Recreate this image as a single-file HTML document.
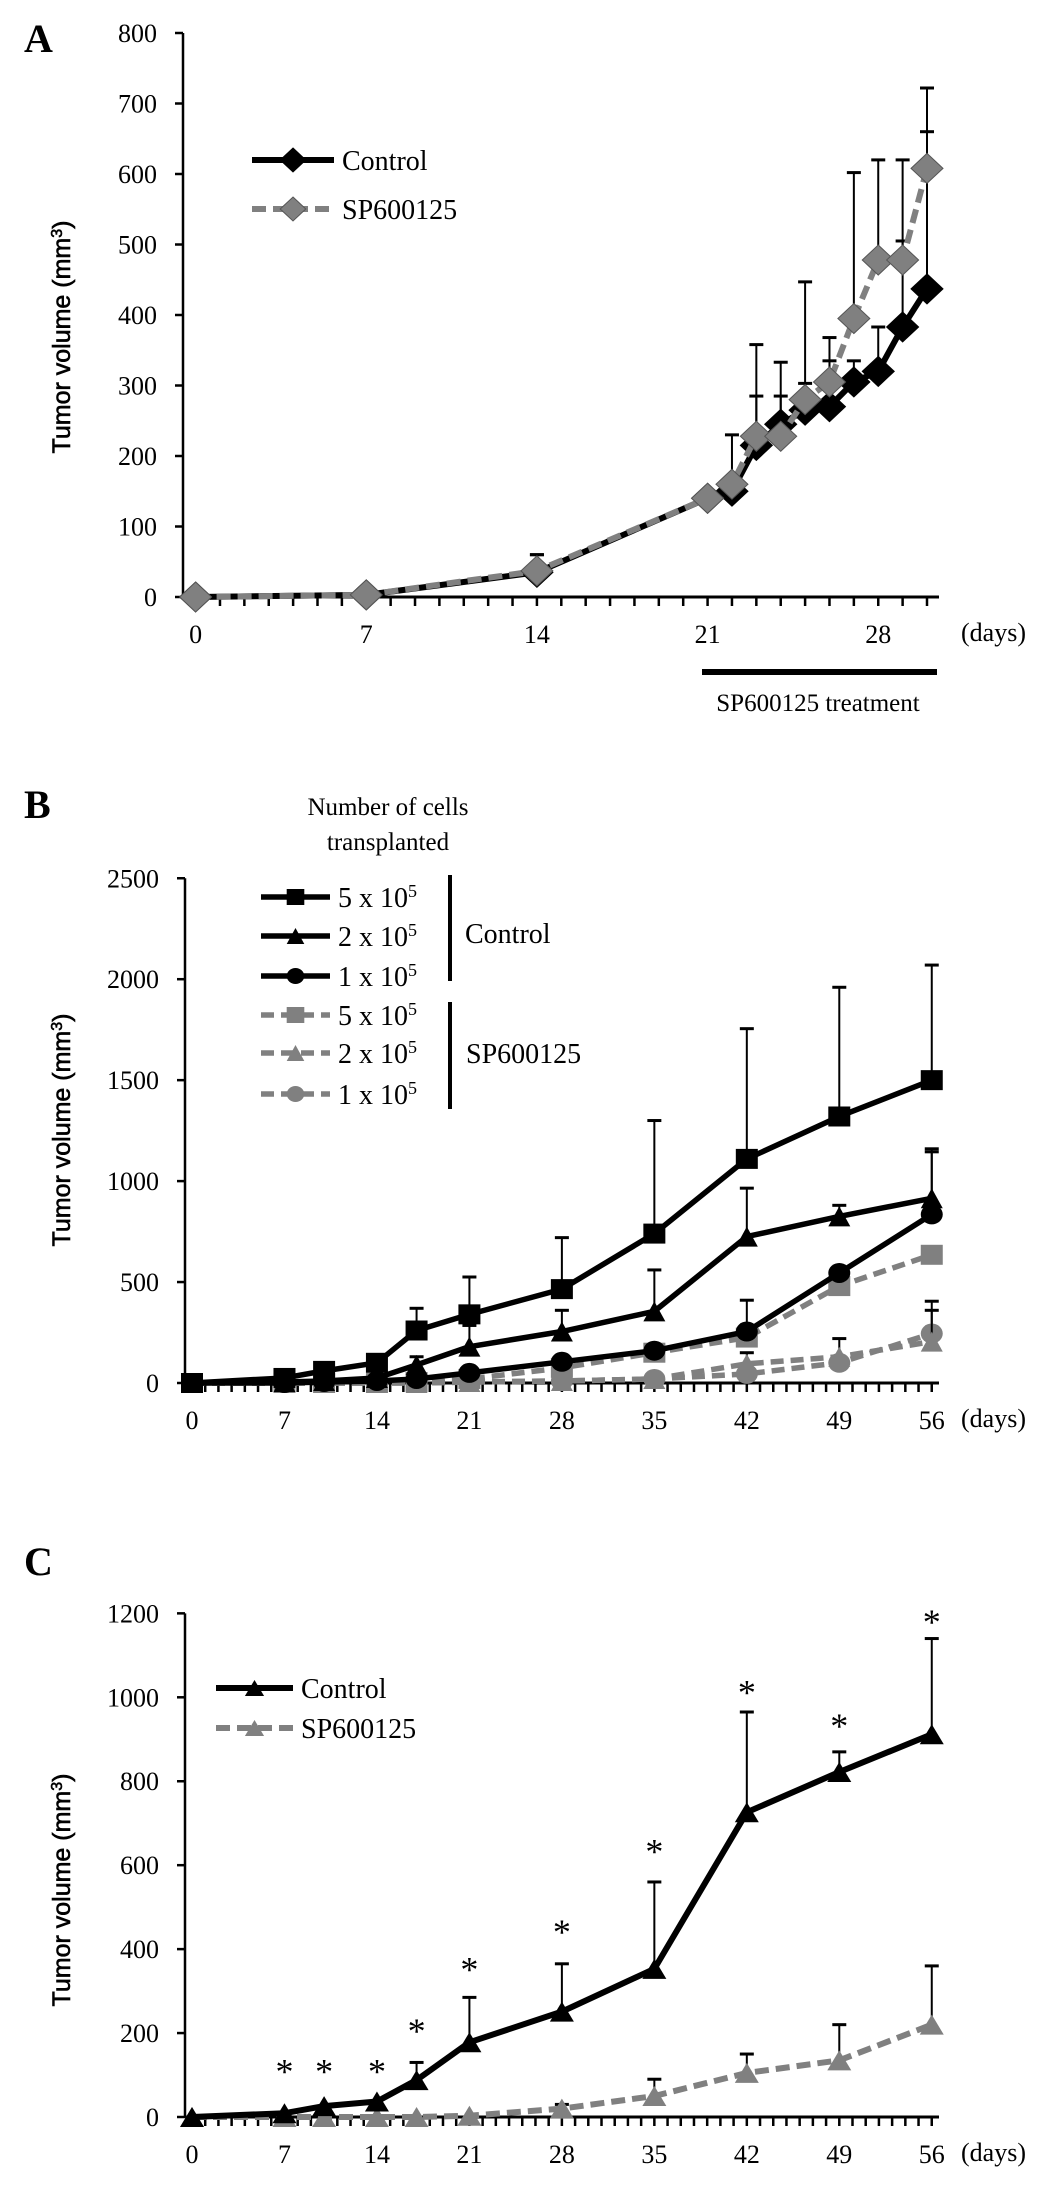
<!DOCTYPE html>
<html><head><meta charset="utf-8">
<style>
html,body{margin:0;padding:0;background:#fff;}
svg{display:block;}
text{font-family:"Liberation Serif",serif;fill:#000;}
.ytitle{font-family:"Liberation Sans",sans-serif;font-size:25px;stroke:#000;stroke-width:0.6px;}
</style></head>
<body>
<svg id="fig" width="1063" height="2192" viewBox="0 0 1063 2192" xmlns="http://www.w3.org/2000/svg"></svg>
<script>
// ---------- Panel A data ----------
const aDays = [0,7,14,21,22,23,24,25,26,27,28,29,30];
const aControl = [0,3,35,140,150,215,245,265,270,305,320,383,437];
const aControlErr = [0,5,60,140,150,285,285,303,335,335,383,505,660];
const aSP = [0,3,37,140,160,228,228,280,305,395,478,478,608];
const aSPErr = [0,5,60,140,230,358,333,447,368,602,620,620,722];
const aYTicks = [0,100,200,300,400,500,600,700,800];
const aXTicks = [0,7,14,21,28];

// ---------- Panel B data ----------
const bDays = [0,7,10,14,17,21,28,35,42,49,56];
const bC5 = [0,25,60,100,260,340,465,740,1110,1320,1500];
const bC5Err = [0,25,60,100,370,525,720,1300,1755,1960,2070];
const bC2 = [0,5,10,25,90,180,255,355,725,825,915];
const bC2Err = [0,5,10,25,130,285,360,560,965,880,1160];
const bC1 = [0,0,5,10,20,50,105,160,255,545,835];
const bC1Err = [0,0,5,10,20,50,105,160,410,545,1145];
const bS5 = [0,0,0,0,5,20,75,150,225,480,635];
const bS5Err = [0,0,0,0,5,20,75,150,225,480,635];
const bS2 = [0,0,0,0,0,5,10,20,95,130,205];
const bS2Err = [0,0,0,0,0,5,10,20,150,220,405];
const bS1 = [0,0,0,0,0,5,10,20,45,100,245];
const bS1Err = [0,0,0,0,0,5,10,20,45,100,360];
const bYTicks = [0,500,1000,1500,2000,2500];
const bXTicks = [0,7,14,21,28,35,42,49,56];

// ---------- Panel C data ----------
const cDays = [0,7,10,14,17,21,28,35,42,49,56];
const cControl = [0,9,26,37,88,178,251,353,726,822,912];
const cControlErr = [0,9,26,37,130,285,365,560,965,870,1140];
const cSP = [0,0,0,0,0,3,20,50,105,135,220];
const cSPErr = [0,0,0,0,0,3,30,90,150,220,360];
const cStarDays = [7,10,14,17,21,28,35,42,49,56];
const cStarVals = [128,128,128,224,370,460,652,1030,951,1199];
const cYTicks = [0,200,400,600,800,1000,1200];
const cXTicks = [0,7,14,21,28,35,42,49,56];

const NS = "http://www.w3.org/2000/svg";
const svg = document.getElementById('fig');
function el(tag, attrs, parent){
  const e = document.createElementNS(NS, tag);
  for (const k in attrs) e.setAttribute(k, attrs[k]);
  (parent||svg).appendChild(e);
  return e;
}
function txt(s, x, y, size, anchor, parent, extra){
  const t = el('text', Object.assign({x:x, y:y, 'font-size':size, 'text-anchor':anchor||'start'}, extra||{}), parent);
  t.textContent = s;
  return t;
}
function marker(g, shape, x, y, fill, w, h){
  let m;
  if (shape==='diamond') m = el('polygon',{points:`${x},${y-h} ${x+w},${y} ${x},${y+h} ${x-w},${y}`, fill:fill, stroke: fill==='#000'?'#000':'#555', 'stroke-width':1}, g);
  else if (shape==='square') m = el('rect',{x:x-w,y:y-h,width:2*w,height:2*h,fill:fill}, g);
  else if (shape==='triangle') m = el('polygon',{points:`${x},${y-h} ${x+w},${y+h} ${x-w},${y+h}`, fill:fill}, g);
  else m = el('ellipse',{cx:x,cy:y,rx:w,ry:h,fill:fill}, g);
  return m;
}
function axes(g, P){
  let a = el('line',{x1:P.x0,y1:P.yOf(P.yTicks[0]),x2:P.x0,y2:P.yOf(P.yTicks[P.yTicks.length-1]),stroke:'#000','stroke-width':2.5}, g);
   
  P.yTicks.forEach(v=>{
    const y = P.yOf(v);
    el('line',{x1:P.x0-8,y1:y,x2:P.x0,y2:y,stroke:'#000','stroke-width':2.5}, g);
    const t = txt(String(v), P.x0-26, y+9, 26, 'end', g);
    
    
  });
  const y0 = P.yOf(0);
  a = el('line',{x1:P.x0,y1:y0,x2:P.xEnd,y2:y0,stroke:'#000','stroke-width':3}, g);
   
  for (let d=0; P.xOf(d)<=P.xEnd+1; d++){
    el('line',{x1:P.xOf(d),y1:y0,x2:P.xOf(d),y2:y0+9,stroke:'#000','stroke-width':2.5}, g);
  }
  P.xTicks.forEach(d=>{
    const t = txt(String(d), P.xOf(d), y0+46, 26, 'middle', g);
    
    
  });
  const dl = txt('(days)', P.xEnd+22, y0+44, 26, 'start', g);
  
  
}
function ytitle(g, x, y){
  const t = el('text',{x:0,y:0,'class':'ytitle','text-anchor':'middle',transform:`translate(${x},${y}) rotate(-90)`}, g);
  t.innerHTML = 'Tumor volume (mm<tspan baseline-shift="super" font-size="16">3</tspan>)';
  
  
}
function series(g, P, days, vals, errs, opt, name){
  const sg = el('g',{}, g);
  
  
  days.forEach((d,i)=>{
    if (errs[i] > vals[i] + 1){
      const x = P.xOf(d), y1 = P.yOf(vals[i]), y2 = P.yOf(errs[i]);
      el('line',{x1:x,y1:y1,x2:x,y2:y2,stroke:'#000','stroke-width':2}, sg);
      const c = el('line',{x1:x-7,y1:y2,x2:x+7,y2:y2,stroke:'#000','stroke-width':3}, sg);
      
      
    }
  });
  const pts = days.map((d,i)=>P.xOf(d)+','+P.yOf(vals[i])).join(' ');
  const line = el('polyline',{points:pts,fill:'none',stroke:opt.color,'stroke-width':opt.lw,'stroke-dasharray':opt.dash||'none','stroke-linejoin':'round'}, sg);
  
  
  days.forEach((d,i)=>{
    const m = marker(sg, opt.shape, P.xOf(d), P.yOf(vals[i]), opt.color, opt.mw, opt.mh);
    
    
  });
}
function legendLine(g, x1, x2, y, opt, label, name, fs){
  const lg = el('g',{}, g);
  
  
  el('line',{x1:x1,y1:y,x2:x2,y2:y,stroke:opt.color,'stroke-width':opt.lw,'stroke-dasharray':opt.dash||'none'}, lg);
  marker(lg, opt.shape, (x1+x2)/2, y, opt.color, opt.mw*0.8, opt.mh*0.8);
  if (label){
    const t = el('text',{x:x2+8,y:y+10,'font-size':fs||27}, lg);
    t.innerHTML = label;
  }
}

const BLACK = '#000', GRAY = '#808080';

// ================= Panel A =================
(function(){
  const g = el('g',{});  
  const P = {x0:183, xEnd:939, yTicks:aYTicks, xTicks:aXTicks,
    xOf:d=>195.6+d*24.38, yOf:v=>597-v*0.705};
  const lab = txt('A', 24, 52, 40, 'start', g, {'font-weight':'bold'});
   
  axes(g, P);
  ytitle(g, 70, 337);
  const oC = {color:BLACK, lw:6, shape:'diamond', mw:16, mh:15};
  const oS = {color:GRAY, lw:6, dash:'14 7', shape:'diamond', mw:16, mh:15};
  series(g, P, aDays, aControl, aControlErr, oC, 'control-series');
  series(g, P, aDays, aSP, aSPErr, oS, 'sp600125-series');
  legendLine(g, 252, 334, 160, oC, 'Control', 'legend-control', 28);
  legendLine(g, 252, 334, 209, oS, 'SP600125', 'legend-sp600125', 28);
  const bar = el('line',{x1:702,y1:672,x2:937,y2:672,stroke:'#000','stroke-width':6}, g);
   
  const tt = txt('SP600125 treatment', 818, 711, 25, 'middle', g);
   
})();

// ================= Panel B =================
(function(){
  const g = el('g',{});  
  const P = {x0:185, xEnd:939, yTicks:bYTicks, xTicks:bXTicks,
    xOf:d=>192+d*13.21, yOf:v=>1383-v*0.2019};
  const lab = txt('B', 24, 818, 40, 'start', g, {'font-weight':'bold'});
   
  axes(g, P);
  ytitle(g, 70, 1130);
  const t1 = txt('Number of cells', 388, 815, 25, 'middle', g);
   
  const t2 = txt('transplanted', 388, 850, 25, 'middle', g);
   
  const o = (c,s,d)=>({color:c, lw:5.5, shape:s, dash:d, mw:11, mh:10});
  const oC5=o(BLACK,'square'), oC2=o(BLACK,'triangle'), oC1=o(BLACK,'circle');
  const oS5=o(GRAY,'square','13 7'), oS2=o(GRAY,'triangle','13 7'), oS1=o(GRAY,'circle','13 7');
  series(g,P,bDays,bS1,bS1Err,oS1,'sp-1e5-series');
  series(g,P,bDays,bS2,bS2Err,oS2,'sp-2e5-series');
  series(g,P,bDays,bS5,bS5Err,oS5,'sp-5e5-series');
  series(g,P,bDays,bC1,bC1Err,oC1,'control-1e5-series');
  series(g,P,bDays,bC2,bC2Err,oC2,'control-2e5-series');
  series(g,P,bDays,bC5,bC5Err,oC5,'control-5e5-series');
  const rows = [[897,oC5,'5'],[936,oC2,'2'],[976,oC1,'1'],[1015,oS5,'5'],[1053,oS2,'2'],[1094,oS1,'1']];
  rows.forEach((r,i)=>{
    legendLine(g, 261, 330, r[0], r[1], `${r[2]} x 10<tspan baseline-shift="super" font-size="18">5</tspan>`, 'legend-entry-'+i, 28);
  });
  let br = el('line',{x1:450,y1:875,x2:450,y2:981,stroke:'#000','stroke-width':4}, g);
   
  br = el('line',{x1:450,y1:1002,x2:450,y2:1109,stroke:'#000','stroke-width':4}, g);
   
  let gl = txt('Control', 465, 943, 28, 'start', g);
   
  gl = txt('SP600125', 466, 1063, 28, 'start', g);
   
})();

// ================= Panel C =================
(function(){
  const g = el('g',{});  
  const P = {x0:185, xEnd:939, yTicks:cYTicks, xTicks:cXTicks,
    xOf:d=>192+d*13.21, yOf:v=>2117-v*0.4197};
  const lab = txt('C', 24, 1575, 40, 'start', g, {'font-weight':'bold'});
   
  axes(g, P);
  ytitle(g, 70, 1890);
  const oC = {color:BLACK, lw:6, shape:'triangle', mw:12, mh:10};
  const oS = {color:GRAY, lw:6, dash:'14 7', shape:'triangle', mw:12, mh:10};
  series(g, P, cDays, cSP, cSPErr, oS, 'sp600125-series');
  series(g, P, cDays, cControl, cControlErr, oC, 'control-series');
  cStarDays.forEach((d,i)=>{
    const s = txt('*', P.xOf(d), P.yOf(cStarVals[i])+20, 36, 'middle', g);
    
    
  });
  legendLine(g, 216, 293, 1688, oC, 'Control', 'legend-control', 28);
  legendLine(g, 216, 293, 1728, oS, 'SP600125', 'legend-sp600125', 28);
})();
</script>
</body></html>
